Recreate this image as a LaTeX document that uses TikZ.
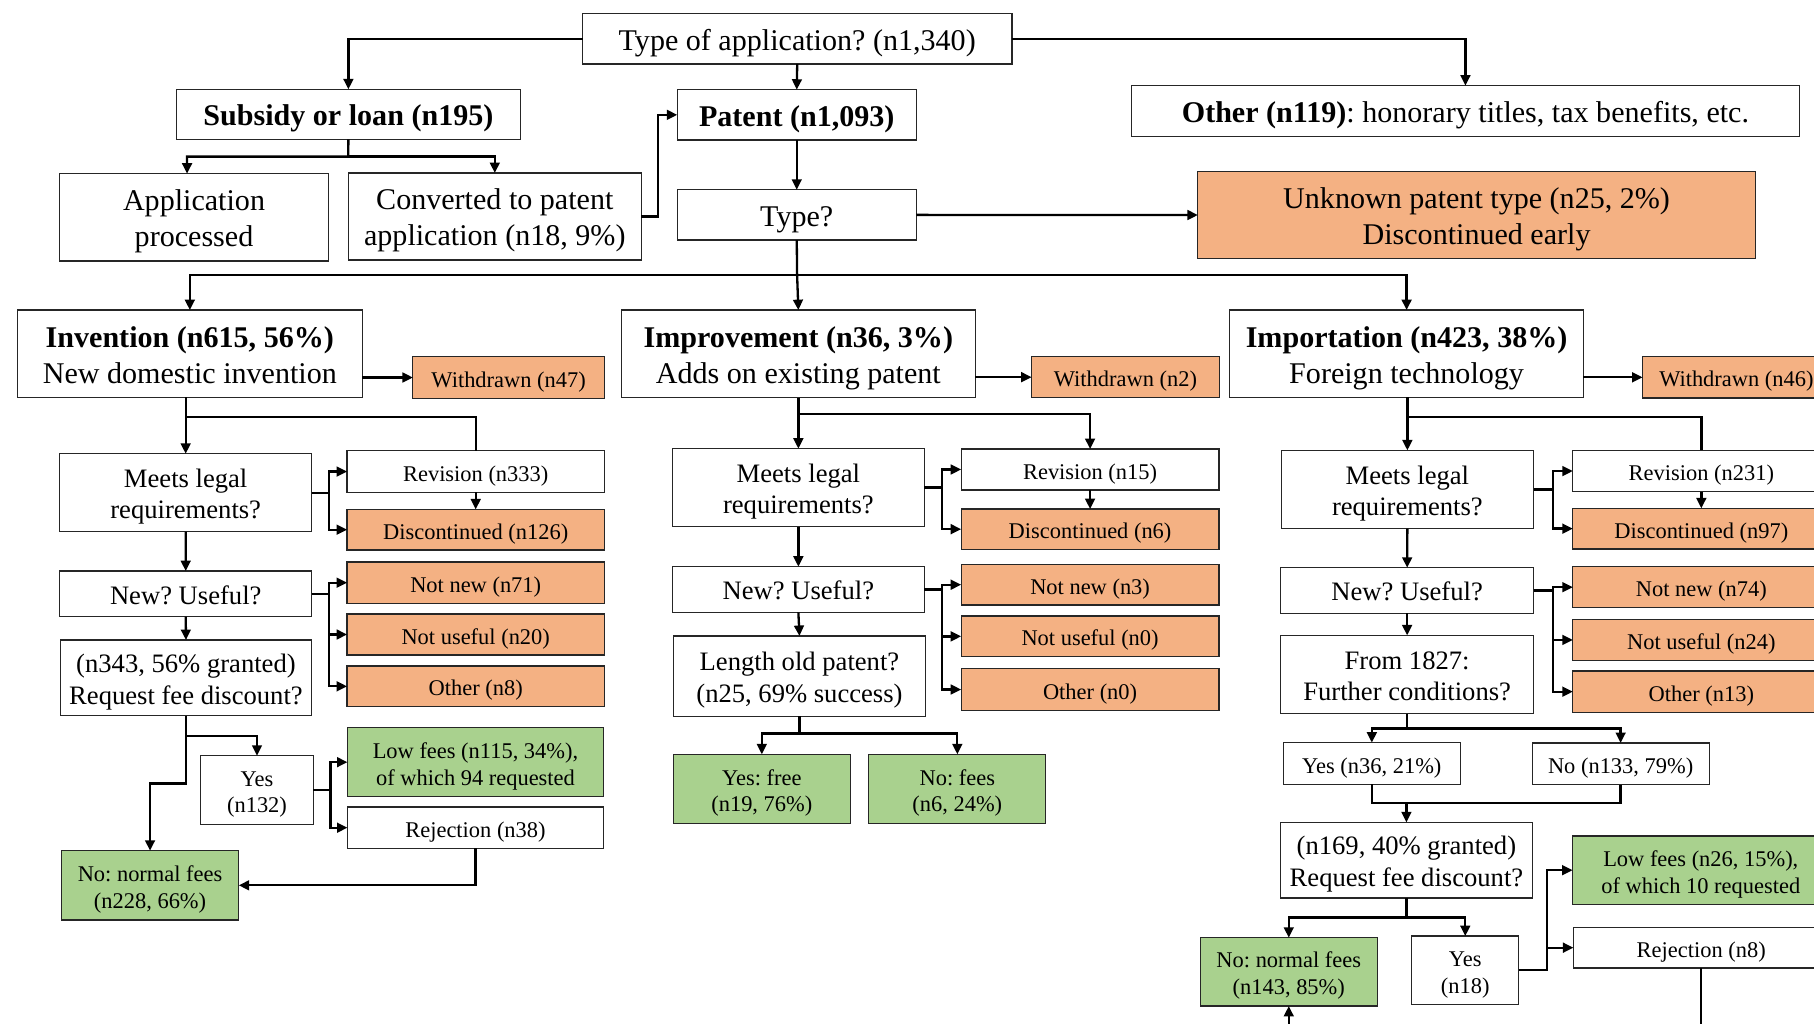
\documentclass[tikz,border=0pt]{standalone}
\usepackage{fontspec}
\setmainfont{Liberation Serif}
\usetikzlibrary{arrows.meta}
\frenchspacing
\definecolor{orgc}{HTML}{F4B183}
\definecolor{grnc}{HTML}{A9D18E}
\newsavebox{\bxcontent}
\newcommand{\bx}[7]{\node[#6, minimum width={(#4-#2)*0.5pt}, minimum height={(#5-#3)*0.5pt}] (#1) at ({(#2+#4)/2},{(#3+#5)/2}) {\sbox{\bxcontent}{\begin{tabular}{@{}c@{}}#7\end{tabular}}\raisebox{-1.8pt}[\ht\bxcontent][\dp\bxcontent]{\usebox{\bxcontent}}};}
\tikzset{
  box/.style={draw=black!85, line width=0.5pt, inner sep=0pt, outer sep=0pt, align=center, fill=white},
  org/.style={box, fill=orgc},
  grn/.style={box, fill=grnc},
  L/.style={font=\fontsize{13}{15.6}\selectfont},
  M/.style={font=\fontsize{11.5}{13.6}\selectfont},
  S/.style={font=\fontsize{9.7}{11.6}\selectfont},
  ln/.style={line width=1pt},
  conn/.style={line width=1pt, -{Triangle[length=4.5pt,width=4.2pt]}},
}
\begin{document}
\begin{tikzpicture}[x=0.5pt,y=-0.5pt]
\useasboundingbox (0,0) rectangle (1568,885);
\clip (0,0) rectangle (1568,885);
\fill[white] (0,0) rectangle (1568,885);
% top level
\bx{type}{503.5}{12}{874.7}{55.3}{box,L}{Type of application? (n1,340)}
\bx{subsidy}{152.3}{77.2}{450}{120.4}{box,L}{\textbf{Subsidy or loan (n195)}}
\bx{patent}{585.4}{77.5}{792}{121}{box,L}{\textbf{Patent (n1,093)}}
\bx{other}{978}{74}{1555.4}{118.2}{box,L}{\textbf{Other (n119)}: honorary titles, tax benefits, etc.}
\bx{appproc}{51.6}{150.1}{283.8}{225.6}{box,L}{Application\\processed}
\bx{converted}{301.2}{149.5}{554.2}{224.7}{box,L}{Converted to patent\\application (n18, 9\%)}
\bx{typeq}{585.4}{164}{792}{207.5}{box,L}{Type?}
\bx{unknown}{1035.4}{148.1}{1517.3}{223.6}{org,L}{Unknown patent type (n25, 2\%)\\Discontinued early}
% second level
\bx{invention}{15}{268}{313.2}{343.4}{box,L}{\textbf{Invention (n615, 56\%)}\\New domestic invention}
\bx{withdrawn1}{356.9}{308.3}{522.4}{344.3}{org,S}{Withdrawn (n47)}
\bx{improvement}{537.3}{268}{842.9}{343.7}{box,L}{\textbf{Improvement (n36, 3\%)}\\Adds on existing patent}
\bx{withdrawn2}{891.7}{308.3}{1054}{343.7}{org,S}{Withdrawn (n2)}
\bx{importation}{1063}{268}{1368.7}{343.4}{box,L}{\textbf{Importation (n423, 38\%)}\\Foreign technology}
\bx{withdrawn3}{1419.8}{308.3}{1582}{344}{org,S}{Withdrawn (n46)}
% invention column
\bx{meets1}{51.6}{392.2}{269.4}{459.6}{box,M}{Meets legal\\requirements?}
\bx{revision1}{300}{389.6}{522.4}{425.6}{box,S}{Revision (n333)}
\bx{discont1}{300}{440.3}{522.4}{475.4}{org,S}{Discontinued (n126)}
\bx{newuse1}{51.6}{493.6}{269.5}{533}{box,M}{New? Useful?}
\bx{notnew1}{300}{485.8}{522.4}{521.5}{org,S}{Not new (n71)}
\bx{notuseful1}{300}{530.7}{522.4}{566.2}{org,S}{Not useful (n20)}
\bx{other1}{300}{575.7}{522.4}{610.8}{org,S}{Other (n8)}
\bx{req1}{52}{553.2}{269.5}{618.6}{box,M}{(n343, 56\% granted)\\Request fee discount?}
\bx{yes1}{173.4}{653.2}{270.9}{712.5}{box,S}{Yes\\(n132)}
\bx{lowfees1}{300.3}{629}{521.7}{688.6}{grn,S}{Low fees (n115, 34\%),\\of which 94 requested}
\bx{rejection1}{300.3}{697.6}{521.7}{733.3}{box,S}{Rejection (n38)}
\bx{nofees1}{53}{735.3}{206.4}{795.2}{grn,S}{No: normal fees\\(n228, 66\%)}
% improvement column
\bx{meets2}{581.4}{387.8}{798.8}{455.2}{box,M}{Meets legal\\requirements?}
\bx{revision2}{830.8}{388.1}{1053.7}{423.5}{box,S}{Revision (n15)}
\bx{discont2}{830.8}{440}{1053.7}{474.8}{org,S}{Discontinued (n6)}
\bx{newuse2}{581.4}{489.8}{798.8}{529.3}{box,M}{New? Useful?}
\bx{notnew2}{830.8}{487.8}{1053.7}{523}{org,S}{Not new (n3)}
\bx{notuseful2}{830.8}{532.5}{1053.7}{567.6}{org,S}{Not useful (n0)}
\bx{other2}{830.8}{578}{1053.7}{614}{org,S}{Other (n0)}
\bx{length2}{582.4}{549.7}{799.7}{619}{box,M}{Length old patent?\\(n25, 69\% success)}
\bx{yesfree}{582}{652}{735}{712}{grn,S}{Yes: free\\(n19, 76\%)}
\bx{nofees2}{751}{652}{904}{712}{grn,S}{No: fees\\(n6, 24\%)}
% importation column
\bx{meets3}{1107.4}{389.3}{1325.6}{457}{box,M}{Meets legal\\requirements?}
\bx{revision3}{1359.5}{389.3}{1581.7}{425}{box,S}{Revision (n231)}
\bx{discont3}{1359.5}{439.4}{1581.7}{474.5}{org,S}{Discontinued (n97)}
\bx{newuse3}{1107}{490.7}{1325.6}{530.1}{box,M}{New? Useful?}
\bx{notnew3}{1359.5}{489.8}{1581.7}{525.3}{org,S}{Not new (n74)}
\bx{notuseful3}{1359.5}{535.3}{1581.7}{571}{org,S}{Not useful (n24)}
\bx{other3}{1359.5}{580}{1581.7}{615.7}{org,S}{Other (n13)}
\bx{from1827}{1107}{549.2}{1325.6}{616.9}{box,M}{From 1827:\\Further conditions?}
\bx{yes3}{1109.4}{641.9}{1262.2}{678}{box,S}{Yes (n36, 21\%)}
\bx{no3}{1324.3}{642.2}{1477.4}{678.3}{box,S}{No (n133, 79\%)}
\bx{req3}{1106.7}{710.8}{1324.7}{776.2}{box,M}{(n169, 40\% granted)\\Request fee discount?}
\bx{lowfees3}{1359.3}{722.6}{1581}{781.7}{grn,S}{Low fees (n26, 15\%),\\of which 10 requested}
\bx{rejection3}{1360}{801.6}{1581}{836.7}{box,S}{Rejection (n8)}
\bx{nofees3}{1037.5}{810.5}{1190.5}{869.6}{grn,S}{No: normal fees\\(n143, 85\%)}
\bx{yes3b}{1220.3}{809.1}{1312.8}{868.2}{box,S}{Yes\\(n18)}
% top connectors
\draw[conn] (type.west) -| (subsidy.north);
\draw[conn] (type.south) -- (patent.north);
\draw[conn] (type.east) -| (other.north);
\coordinate (j1) at (301,135.4);
\draw[conn] (subsidy.south) -- (j1) -| ([xshift=-3pt]appproc.north);
\draw[conn] (j1) -| (converted.north);
\draw[conn] (converted.east) -- ++(14.8,0) |- (patent.west);
\draw[conn] (patent.south) -- (typeq.north);
\draw[conn] (typeq.east) -- (unknown.west);
\coordinate (j2) at (689,237.7);
\draw[conn] (typeq.south) -- (j2) -- (improvement.north);
\draw[conn] (j2) -| (invention.north);
\draw[conn] (j2) -| (importation.north);
% invention column connectors
\draw[conn] (invention.east |- withdrawn1.west) -- (withdrawn1.west);
\draw[conn] (meets1.north |- invention.south) -- (meets1.north);
\draw[ln] (meets1.north |- invention.south) -- ++(0,16.8) -| (revision1.north);
\draw[conn] (meets1.east) -- ++(14.7,0) |- (revision1.west);
\draw[conn] (meets1.east) -- ++(14.7,0) |- (discont1.west);
\draw[conn] (revision1.south) -- (discont1.north);
\draw[conn] (meets1.south) -- (newuse1.north);
\draw[conn] (newuse1.east) -- ++(14.7,0) |- (notnew1.west);
\draw[conn] (newuse1.east) -- ++(14.7,0) |- (notuseful1.west);
\draw[conn] (newuse1.east) -- ++(14.7,0) |- (other1.west);
\draw[conn] (newuse1.south) -- (req1.north);
\draw[conn] (req1.south) -- ++(0,17.3) -| (yes1.north);
\draw[conn] (req1.south) -- ++(0,58.5) -| (nofees1.north);
\draw[conn] (yes1.east) -- ++(14.7,0) |- (lowfees1.west);
\draw[conn] (yes1.east) -- ++(14.7,0) |- (rejection1.west);
\draw[conn] (rejection1.south) |- (nofees1.east);
% improvement column connectors
\draw[conn] (improvement.east |- withdrawn2.west) -- (withdrawn2.west);
\draw[conn] (meets2.north |- improvement.south) -- (meets2.north);
\draw[conn] (meets2.north |- improvement.south) -- ++(0,14.4) -| (revision2.north);
\draw[conn] (meets2.east) -- ++(15.7,0) |- (revision2.west);
\draw[conn] (meets2.east) -- ++(15.7,0) |- (discont2.west);
\draw[conn] (revision2.south) -- (discont2.north);
\draw[conn] (meets2.south) -- (newuse2.north);
\draw[conn] (newuse2.east) -- ++(15.7,0) |- (notnew2.west);
\draw[conn] (newuse2.east) -- ++(15.7,0) |- (notuseful2.west);
\draw[conn] (newuse2.east) -- ++(15.7,0) |- (other2.west);
\draw[conn] (newuse2.south) -- (length2.north);
\draw[conn] (length2.south) -- ++(0,15) -| (yesfree.north);
\draw[conn] (length2.south) -- ++(0,15) -| (nofees2.north);
% importation column connectors
\draw[conn] (importation.east |- withdrawn3.west) -- (withdrawn3.west);
\draw[conn] (meets3.north |- importation.south) -- (meets3.north);
\draw[ln] (meets3.north |- importation.south) -- ++(0,17.3) -| (revision3.north);
\draw[conn] (meets3.east) -- ++(17,0) |- (revision3.west);
\draw[conn] (meets3.east) -- ++(17,0) |- (discont3.west);
\draw[conn] (revision3.south) -- (discont3.north);
\draw[conn] (meets3.south) -- (newuse3.north);
\draw[conn] (newuse3.east) -- ++(17,0) |- (notnew3.west);
\draw[conn] (newuse3.east) -- ++(17,0) |- (notuseful3.west);
\draw[conn] (newuse3.east) -- ++(17,0) |- (other3.west);
\draw[conn] (newuse3.south) -- (from1827.north);
\draw[conn] (from1827.south) -- ++(0,12.7) -| (yes3.north);
\draw[conn] (from1827.south) -- ++(0,12.7) -| (no3.north);
\path (yes3.south) -- ++(0,15.8) coordinate (m3);
\draw[ln] (yes3.south) -- (m3) -| (no3.south);
\draw[conn] (m3 -| req3.north) -- (req3.north);
\draw[conn] (req3.south) -- ++(0,16.8) -| (nofees3.north);
\draw[conn] (req3.south) -- ++(0,16.8) -| (yes3b.north);
\draw[conn] (yes3b.east) -- ++(24.1,0) |- (lowfees3.west);
\draw[conn] (yes3b.east) -- ++(24.1,0) |- (rejection3.west);
\draw[conn] (rejection3.south) -- ++(0,80) -| (nofees3.south);
\end{tikzpicture}
\end{document}
